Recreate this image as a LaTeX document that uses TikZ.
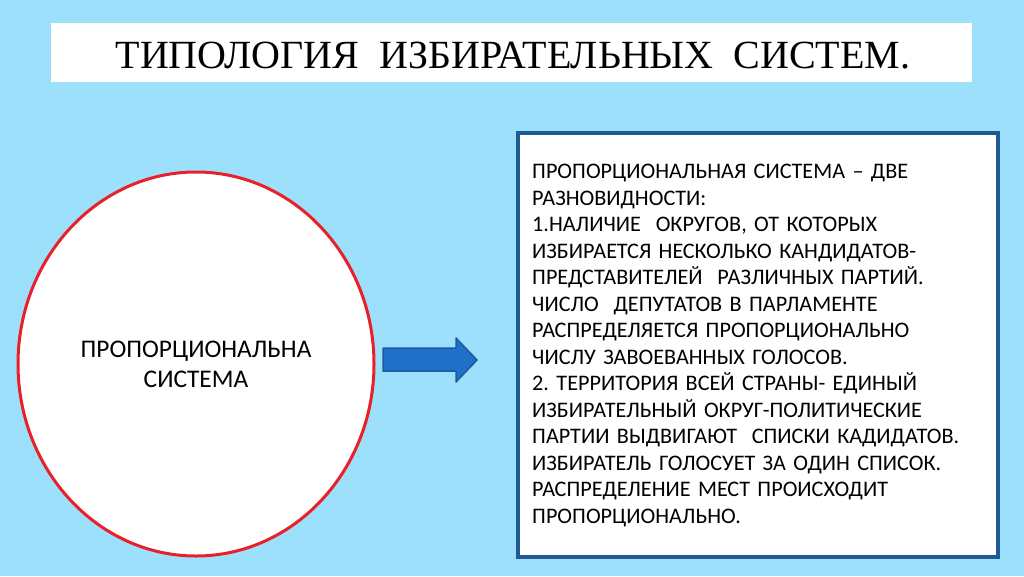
\documentclass[tikz,border=0pt]{standalone}
\usepackage{fontspec}
\setmainfont{Liberation Serif}
\newfontfamily\calib{Carlito}
\usetikzlibrary{positioning,shapes.geometric}
\definecolor{skyback}{HTML}{9CE0FC}
\definecolor{boxblue}{HTML}{1F5A96}
\definecolor{arrowblue}{HTML}{2070C8}
\definecolor{arrowedge}{HTML}{1A5A9E}
\definecolor{ringred}{HTML}{E8202A}
\frenchspacing

\begin{document}
\begin{tikzpicture}[x=1pt, y=-1pt,
  every node/.style={inner sep=0pt},
  titlebox/.style={fill=white, minimum width=921pt, minimum height=59pt},
  ring/.style={ellipse, draw=ringred, line width=3pt, fill=white, minimum width=356pt, minimum height=384pt},
  infobox/.style={draw=boxblue, line width=3.5pt, fill=white, minimum width=480pt, minimum height=424pt},
  bodytext/.style={font=\calib\fontsize{22.2}{26.5}\selectfont, align=left, text width=470pt}]
\fill[skyback] (0,0) rectangle (1024,576);
\useasboundingbox (0,0) rectangle (1024,576);
% title
\node[titlebox] (title) at (511.5, 52.5) {};
\node[font=\fontsize{40}{44}\selectfont] (titletext) at (513, 56) {ТИПОЛОГИЯ\ \ ИЗБИРАТЕЛЬНЫХ\ \ СИСТЕМ.};
% left circle
\node[ring] (ring) at (196, 364) {};
\node[font=\calib\fontsize{25.4}{30}\selectfont, align=center] (ringtext) at (196, 364) {ПРОПОРЦИОНАЛЬНА\\СИСТЕМА};
% arrow
\draw[fill=arrowblue, draw=arrowedge, line width=1.5pt, line join=round]
  (383,348) -- (456,348) -- (456,338) -- (477,360) -- (456,382) -- (456,371) -- (383,371) -- cycle;
% right box
\node[infobox] (info) at (758, 345) {};
\node[bodytext, anchor=north west] (infotext) at (532, 164) {%
ПРОПОРЦИОНАЛЬНАЯ СИСТЕМА – ДВЕ\\
РАЗНОВИДНОСТИ:\\
1.НАЛИЧИЕ\ \ ОКРУГОВ, ОТ КОТОРЫХ\\
ИЗБИРАЕТСЯ НЕСКОЛЬКО КАНДИДАТОВ-\\
ПРЕДСТАВИТЕЛЕЙ\ \ РАЗЛИЧНЫХ ПАРТИЙ.\\
ЧИСЛО\ \ ДЕПУТАТОВ В ПАРЛАМЕНТЕ\\
РАСПРЕДЕЛЯЕТСЯ ПРОПОРЦИОНАЛЬНО\\
ЧИСЛУ ЗАВОЕВАННЫХ ГОЛОСОВ.\\
2. ТЕРРИТОРИЯ ВСЕЙ СТРАНЫ- ЕДИНЫЙ\\
ИЗБИРАТЕЛЬНЫЙ ОКРУГ-ПОЛИТИЧЕСКИЕ\\
ПАРТИИ ВЫДВИГАЮТ\ \ СПИСКИ КАДИДАТОВ.\\
ИЗБИРАТЕЛЬ ГОЛОСУЕТ ЗА ОДИН СПИСОК.\\
РАСПРЕДЕЛЕНИЕ МЕСТ ПРОИСХОДИТ\\
ПРОПОРЦИОНАЛЬНО.};
\end{tikzpicture}
\end{document}
